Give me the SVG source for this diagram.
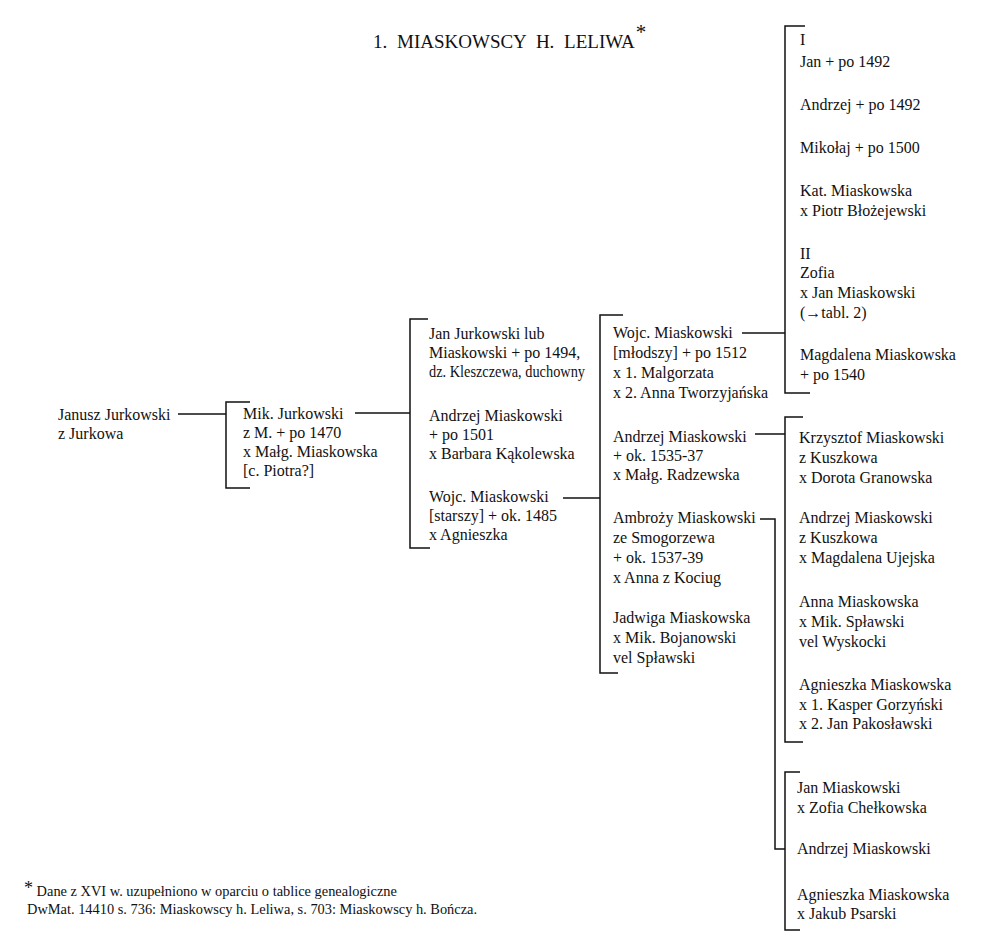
<svg xmlns="http://www.w3.org/2000/svg" width="985" height="944" viewBox="0 0 985 944">
<style>
text{font-family:"Liberation Serif","Times New Roman",serif;font-size:16px;fill:#111}
.title{font-size:19px;word-spacing:5px}
.foot{font-size:14.4px}
.ln{stroke:#111;stroke-width:1.5;fill:none}
</style>
<rect width="985" height="944" fill="#fff"/>
<g id="title"><text class="title" x="373" y="48">1. MIASKOWSCY H. LELIWA<tspan dx="1" dy="-9" font-size="21">*</tspan></text></g>

<g id="connectors">
<path class="ln" d="M178,414H226"/>
<path class="ln" d="M250,402H226V488H250"/>
<path class="ln" d="M355,413H410"/>
<path class="ln" d="M428,319H410V548H430"/>
<path class="ln" d="M563,498H600"/>
<path class="ln" d="M623,315H600V673H618"/>
<path class="ln" d="M742,333H785"/>
<path class="ln" d="M805,26H785V393H810"/>
<path class="ln" d="M755,434H785"/>
<path class="ln" d="M803,417H785V742H803"/>
<path class="ln" d="M760,519H775V849H785"/>
<path class="ln" d="M800,772H785V930H800"/>
</g>

<g id="n-janusz"><text x="58" y="420">Janusz Jurkowski</text><text x="58" y="439">z Jurkowa</text></g>
<g id="n-mik"><text x="243" y="419">Mik. Jurkowski</text><text x="243" y="438">z M.  + po 1470</text><text x="243" y="457">x Małg. Miaskowska</text><text x="243" y="476">[c. Piotra?]</text></g>

<g id="n-jan-jurkowski"><text x="429" y="339">Jan Jurkowski lub</text><text x="429" y="358">Miaskowski + po 1494,</text><text x="429" y="377" textLength="156" lengthAdjust="spacingAndGlyphs">dz. Kleszczewa, duchowny</text></g>
<g id="n-andrzej-1501"><text x="429" y="421">Andrzej Miaskowski</text><text x="429" y="440">+ po 1501</text><text x="429" y="459">x Barbara Kąkolewska</text></g>
<g id="n-wojc-starszy"><text x="429" y="502">Wojc. Miaskowski</text><text x="429" y="521">[starszy] + ok. 1485</text><text x="429" y="540">x Agnieszka</text></g>

<g id="n-wojc-mlodszy"><text x="613" y="338">Wojc. Miaskowski</text><text x="613" y="358">[młodszy] + po 1512</text><text x="613" y="378">x 1. Malgorzata</text><text x="613" y="398">x 2. Anna Tworzyjańska</text></g>
<g id="n-andrzej-1535"><text x="613" y="442">Andrzej Miaskowski</text><text x="613" y="461">+ ok. 1535-37</text><text x="613" y="480">x Małg. Radzewska</text></g>
<g id="n-ambrozy"><text x="613" y="523">Ambroży Miaskowski</text><text x="613" y="543">ze Smogorzewa</text><text x="613" y="563">+ ok. 1537-39</text><text x="613" y="583">x Anna z Kociug</text></g>
<g id="n-jadwiga"><text x="613" y="623">Jadwiga Miaskowska</text><text x="613" y="643">x Mik. Bojanowski</text><text x="613" y="663">vel Spławski</text></g>

<g id="n-label-I"><text x="800" y="45">I</text></g>
<g id="n-jan-1492"><text x="800" y="67">Jan + po 1492</text></g>
<g id="n-andrzej-1492"><text x="800" y="110">Andrzej + po 1492</text></g>
<g id="n-mikolaj"><text x="800" y="153">Mikołaj + po 1500</text></g>
<g id="n-kat"><text x="800" y="196">Kat. Miaskowska</text><text x="800" y="216">x Piotr Błożejewski</text></g>
<g id="n-label-II"><text x="800" y="259">II</text></g>
<g id="n-zofia"><text x="800" y="278">Zofia</text><text x="800" y="298">x Jan Miaskowski</text><text x="800" y="318">(→tabl. 2)</text></g>
<g id="n-magdalena"><text x="800" y="360">Magdalena Miaskowska</text><text x="800" y="380">+ po 1540</text></g>

<g id="n-krzysztof"><text x="799" y="443">Krzysztof Miaskowski</text><text x="799" y="463">z Kuszkowa</text><text x="799" y="483">x Dorota Granowska</text></g>
<g id="n-andrzej-kuszkowa"><text x="799" y="523">Andrzej Miaskowski</text><text x="799" y="543">z Kuszkowa</text><text x="799" y="563">x Magdalena Ujejska</text></g>
<g id="n-anna"><text x="799" y="607">Anna Miaskowska</text><text x="799" y="627">x Mik. Spławski</text><text x="799" y="647">vel Wyskocki</text></g>
<g id="n-agnieszka-1"><text x="799" y="690">Agnieszka Miaskowska</text><text x="799" y="710">x 1. Kasper Gorzyński</text><text x="799" y="729">x 2. Jan Pakosławski</text></g>

<g id="n-jan-chelkowska"><text x="797" y="793">Jan Miaskowski</text><text x="797" y="813">x Zofia Chełkowska</text></g>
<g id="n-andrzej-last"><text x="797" y="854">Andrzej Miaskowski</text></g>
<g id="n-agnieszka-2"><text x="797" y="900">Agnieszka Miaskowska</text><text x="797" y="919">x Jakub Psarski</text></g>

<g id="footnote"><text class="foot" x="24" y="896"><tspan font-size="18" dy="-2">*</tspan><tspan dy="2"> Dane z XVI w. uzupełniono w oparciu o tablice genealogiczne</tspan></text><text class="foot" x="27" y="914">DwMat. 14410 s. 736: Miaskowscy h. Leliwa, s. 703: Miaskowscy h. Bończa.</text></g>
</svg>
